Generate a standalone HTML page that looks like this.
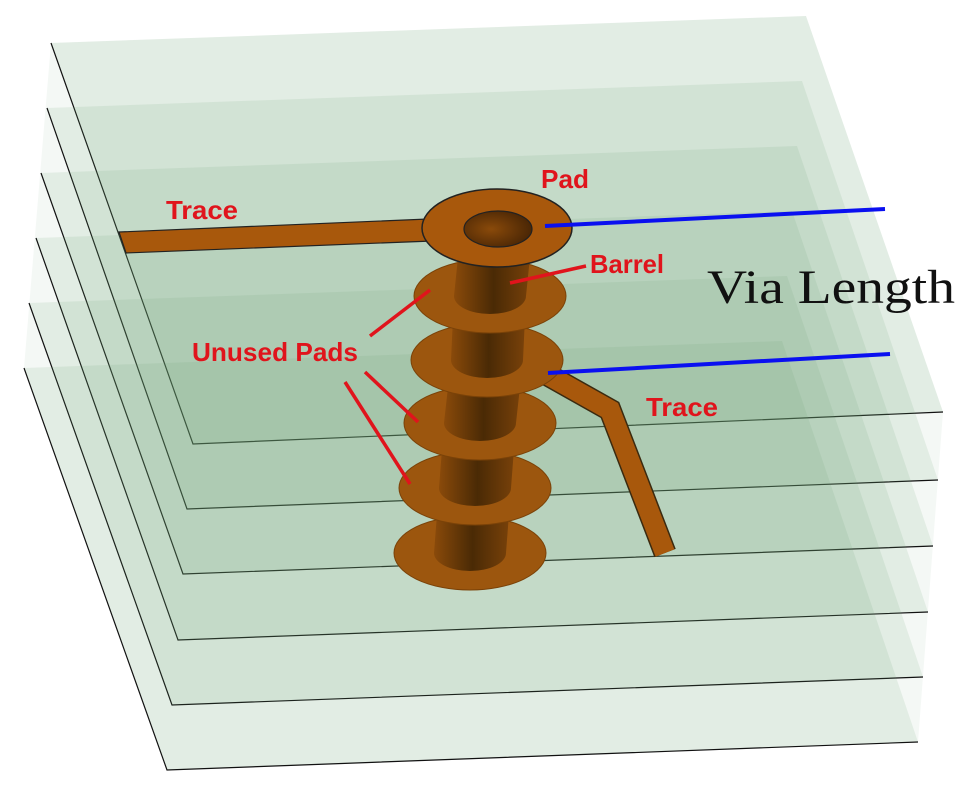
<!DOCTYPE html>
<html><head><meta charset="utf-8"><style>
html,body{margin:0;padding:0;background:#fff;}
svg{display:block;}
.lbl{font-family:"Liberation Sans",sans-serif;font-weight:bold;fill:#e0141c;font-size:26px;}
</style></head><body>
<svg width="973" height="793" viewBox="0 0 973 793" xmlns="http://www.w3.org/2000/svg">
<defs>
<linearGradient id="barrel" x1="0" x2="1" y1="0" y2="0">
<stop offset="0" stop-color="#8a4a0a"/><stop offset="0.5" stop-color="#4a2a05"/><stop offset="1" stop-color="#7a420a"/>
</linearGradient>
<radialGradient id="hole" cx="0.4" cy="0.5" r="0.6">
<stop offset="0" stop-color="#8a4a0a"/><stop offset="1" stop-color="#4a2605"/>
</radialGradient>
</defs>
<polygon points="51,43 806,16 943,412 918,742 167,770 24,368" fill="rgba(150,190,155,0.1)"/>
<g id="layers"></g>
<polyline points="530,365 610,410 665,553" fill="none" stroke="#3a2a10" stroke-width="23" stroke-linejoin="miter"/>
<polyline points="530,365 610,410 665,553" fill="none" stroke="#a8580c" stroke-width="20" stroke-linejoin="miter"/>
<g id="via"></g>
<polygon points="119,232 428,219 432,241 126,253" fill="#a8580c" stroke="#222" stroke-width="1.2"/>
<g id="toppad">
<ellipse cx="497" cy="228" rx="75" ry="39" fill="#a8580c" stroke="#222" stroke-width="1.5"/>
<ellipse cx="498" cy="229" rx="34" ry="18" fill="url(#hole)" stroke="#222" stroke-width="1.2"/>
</g>
<line x1="545" y1="226" x2="885" y2="209" stroke="#0a10f0" stroke-width="4"/>
<line x1="548" y1="373" x2="890" y2="354" stroke="#0a10f0" stroke-width="4"/>
<g stroke="#e0141c" stroke-width="3.5">
<line x1="510" y1="283" x2="586" y2="266"/>
<line x1="370" y1="336" x2="430" y2="290"/>
<line x1="365" y1="372" x2="418" y2="422"/>
<line x1="345" y1="382" x2="410" y2="484"/>
</g>
<text class="lbl" x="541" y="188" textLength="48" lengthAdjust="spacingAndGlyphs">Pad</text>
<text class="lbl" x="166" y="219" textLength="72" lengthAdjust="spacingAndGlyphs">Trace</text>
<text class="lbl" x="590" y="273" textLength="74" lengthAdjust="spacingAndGlyphs">Barrel</text>
<text class="lbl" x="192" y="361" textLength="166" lengthAdjust="spacingAndGlyphs">Unused Pads</text>
<text class="lbl" x="646" y="416" textLength="72" lengthAdjust="spacingAndGlyphs">Trace</text>
<text x="707" y="303" font-family="Liberation Serif, serif" font-size="48" fill="#111" textLength="248" lengthAdjust="spacingAndGlyphs">Via Length</text>
</svg>
<script>
const NS="http://www.w3.org/2000/svg";
const L=document.getElementById('layers');
const tl=[[51,43],[47,108],[41,173],[36,238],[29,303],[24,368]];
const tr=[[806,16],[802,81],[797,146],[792,211],[787,276],[782,341]];
const fr=[[943,412],[938,480],[933,546],[928,612],[923,677],[918,742]];
const fl=[[193,444],[187,509],[183,574],[178,640],[172,705],[167,770]];
for(let i=0;i<6;i++){
 const p=document.createElementNS(NS,'polygon');
 
 
 p.setAttribute('points',[tl[i],tr[i],fr[i],fl[i]].map(a=>a.join(',')).join(' '));
 p.setAttribute('fill','rgba(110,160,115,0.13)');
 L.appendChild(p);
 const e=document.createElementNS(NS,'polyline');
 
 
 e.setAttribute('points',[tl[i],fl[i],fr[i]].map(a=>a.join(',')).join(' '));
 e.setAttribute('fill','none');e.setAttribute('stroke','#111');e.setAttribute('stroke-width','1.2');
 L.appendChild(e);
}
const V=document.getElementById('via');
const pads=[[470,553],[475,488],[480,423],[487,360],[490,296],[497,228]];
for(let i=0;i<5;i++){
 const [x,y]=pads[i];
 const e=document.createElementNS(NS,'ellipse');
 
 
 e.setAttribute('cx',x);e.setAttribute('cy',y);e.setAttribute('rx',76);e.setAttribute('ry',37);
 e.setAttribute('fill','#9c560e');e.setAttribute('stroke','#7a4208');
 V.appendChild(e);
 const [nx,ny]=pads[i+1];
 const b=document.createElementNS(NS,'path');
 
 
 b.setAttribute('d',`M${x-36},${y} L${nx-36},${ny} L${nx+36},${ny} L${x+36},${y} A36 18 0 0 1 ${x-36},${y} Z`);
 b.setAttribute('fill','url(#barrel)');
 V.appendChild(b);
}
</script>
</body></html>
